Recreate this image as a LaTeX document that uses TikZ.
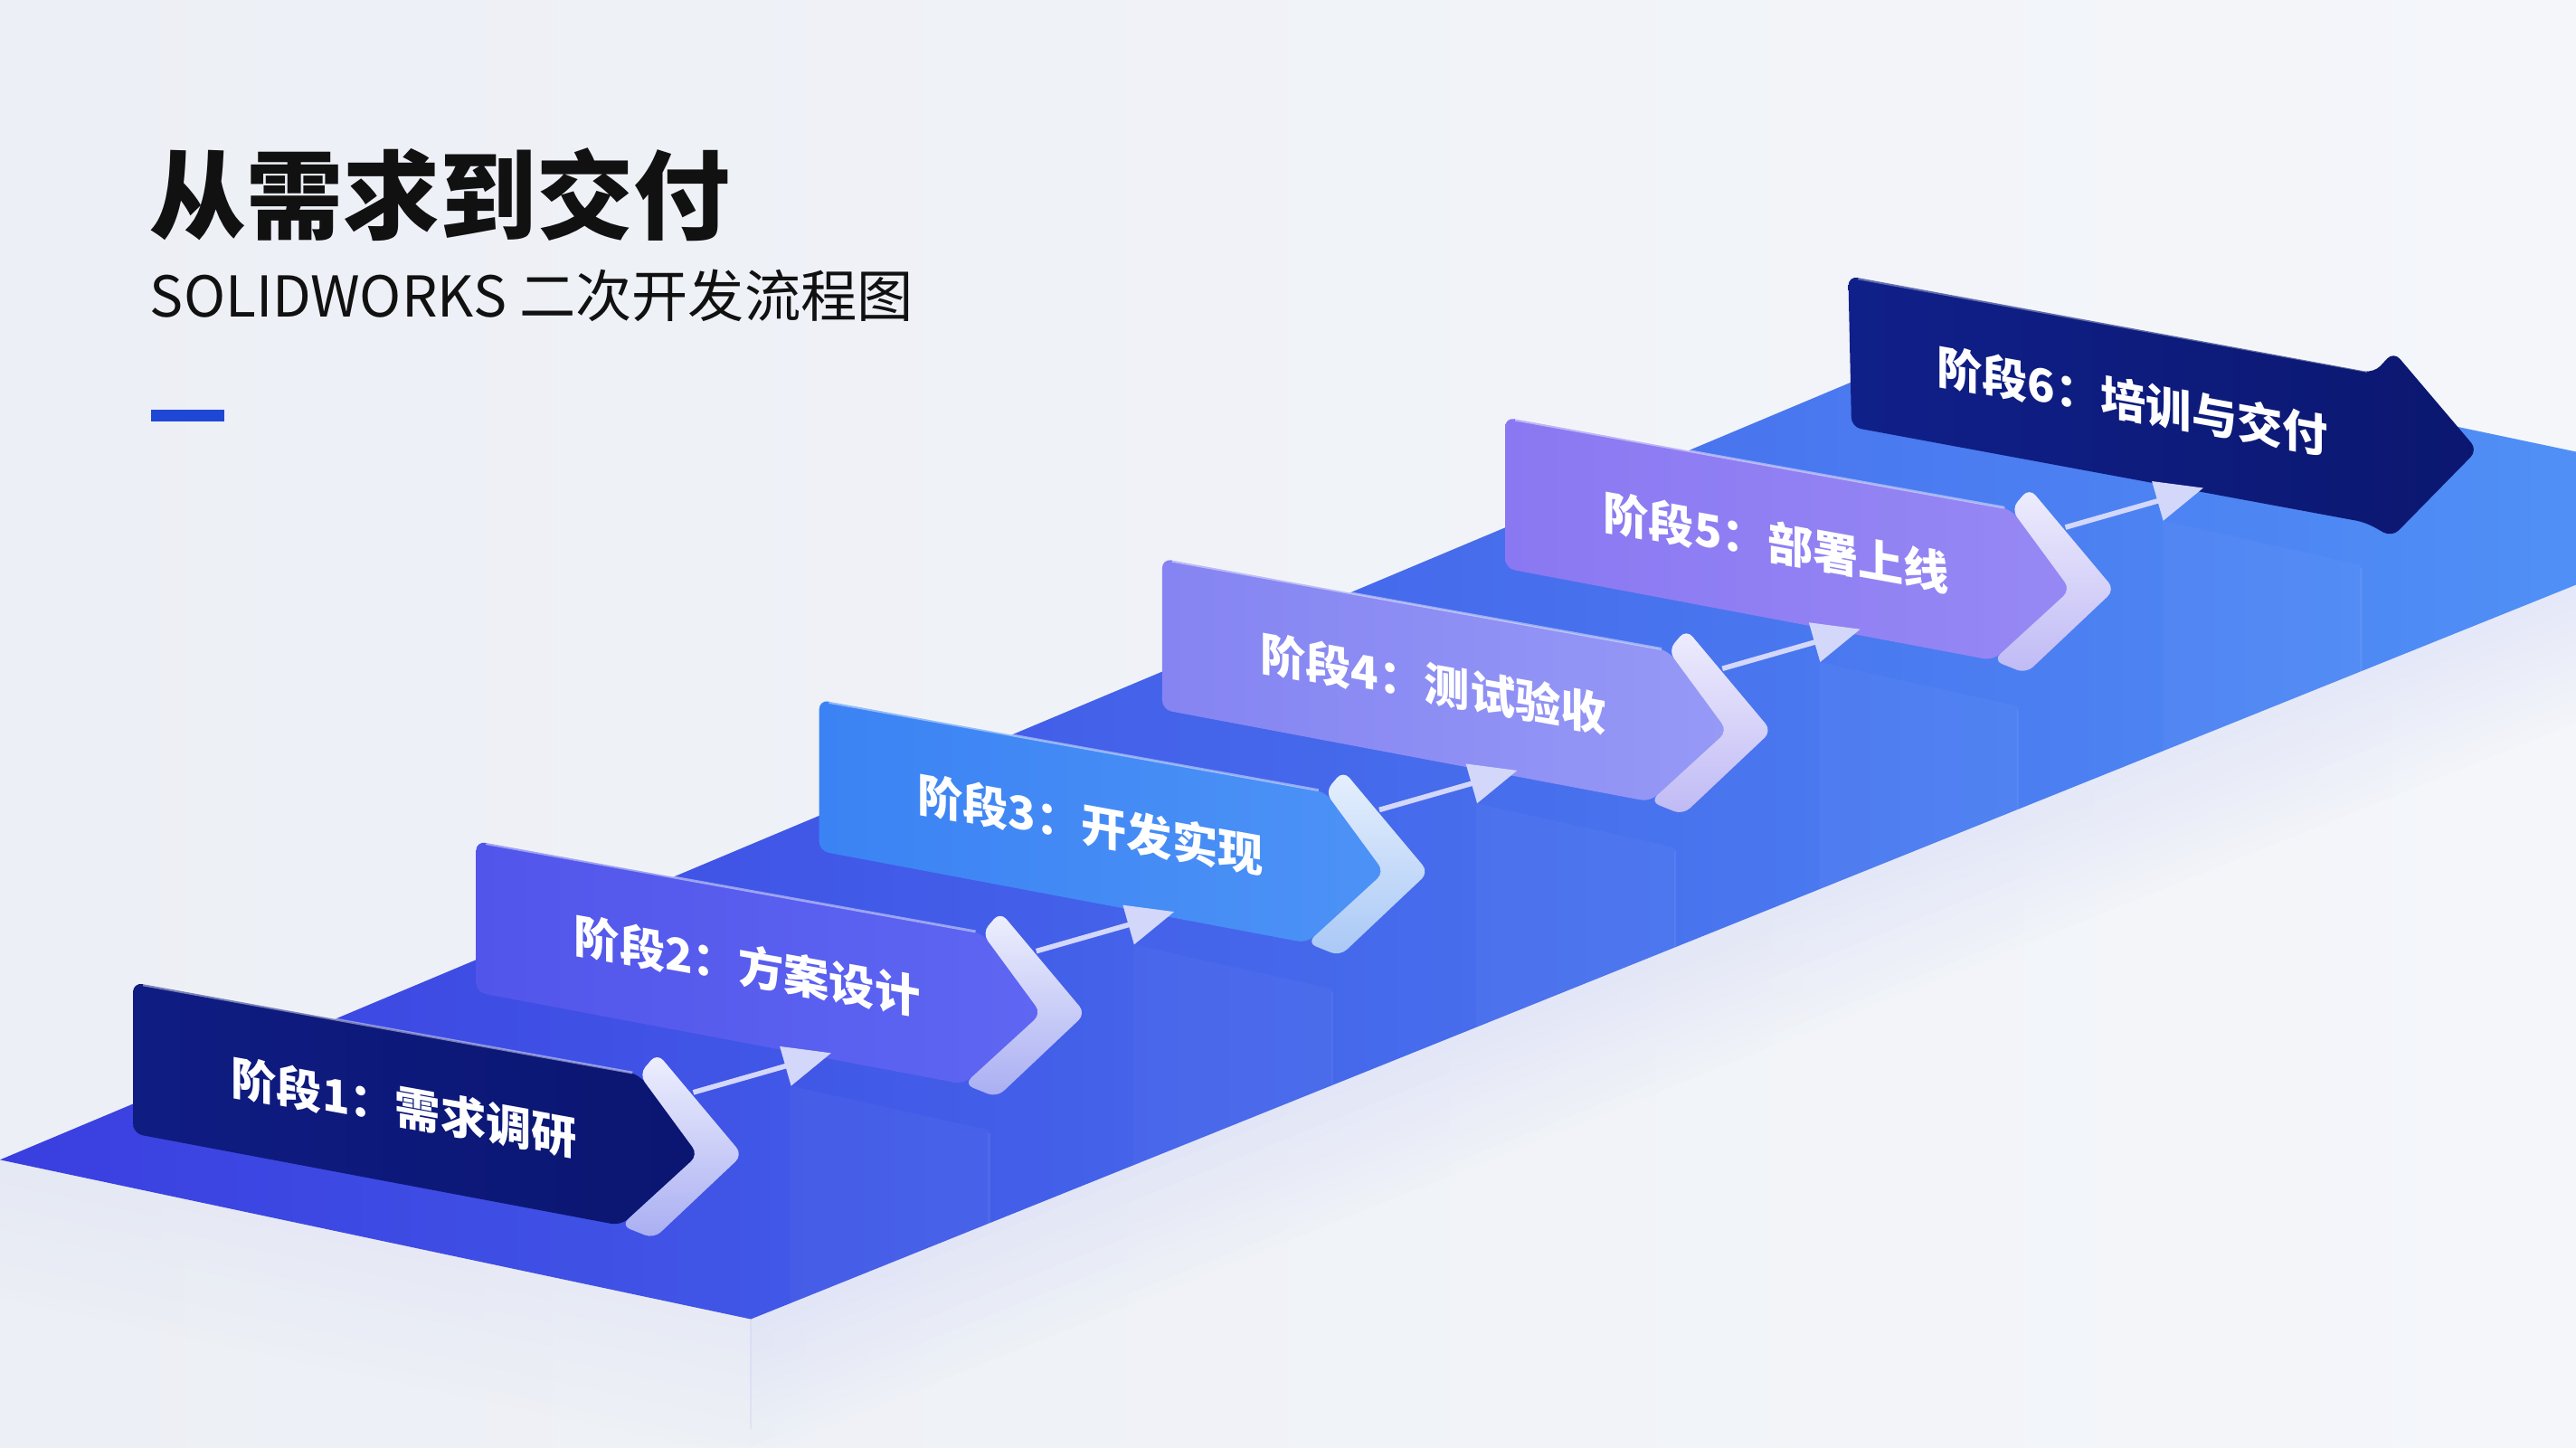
\documentclass[tikz,border=0pt]{standalone}
\usepackage{fontspec}
\setmainfont{Noto Sans CJK SC}
\usetikzlibrary{arrows.meta,calc}
\definecolor{bgl}{HTML}{ECEFF5}
\definecolor{bgr}{HTML}{F4F6FA}
\definecolor{platl}{HTML}{3A3EE0}
\definecolor{platm}{HTML}{4A5CEC}
\definecolor{platr}{HTML}{5090F6}
\definecolor{glow}{HTML}{C4CAF4}
\definecolor{barblue}{HTML}{1F47D6}
\definecolor{titlec}{HTML}{111111}
\definecolor{conn}{HTML}{D3D7FA}
\definecolor{aL}{HTML}{0F1C82}\definecolor{aR}{HTML}{0B1671}
\definecolor{bL}{HTML}{5255EA}\definecolor{bR}{HTML}{5E66F2}
\definecolor{cL}{HTML}{3B83F4}\definecolor{cR}{HTML}{4C92F6}
\definecolor{dL}{HTML}{8584F2}\definecolor{dR}{HTML}{9699F6}
\definecolor{eL}{HTML}{8A78F2}\definecolor{eR}{HTML}{9688F4}
\definecolor{fL}{HTML}{10208A}\definecolor{fR}{HTML}{0B176F}
\definecolor{bandT}{HTML}{EEF0FD}\definecolor{bandB}{HTML}{A9AEF2}
\definecolor{bandTb}{HTML}{E6F0FD}\definecolor{bandBb}{HTML}{A9C8F6}
\definecolor{bandTc}{HTML}{EEEDFD}\definecolor{bandBc}{HTML}{C0BAF5}
\newcommand{\mystage}[7]{%
  \coordinate (#2) at ({81+208.8*#1},{598-86*#1});
  \shade[left color=#3,right color=#4,rounded corners=3pt]
    (#2) -- ($(#2)+(308,56)$) -- ($(#2)+(344,105)$) -- ($(#2)+(297,148)$) -- ($(#2)+(0,92)$) -- cycle;
  \draw[white,opacity=0.45,line width=0.8pt] ($(#2)+(6,1.5)$) -- ($(#2)+(304,55)$);
  \shade[top color=#5,bottom color=#6,rounded corners=3pt]
    ($(#2)+(308,56)$) -- ($(#2)+(319,43)$) -- ($(#2)+(371,105)$) -- ($(#2)+(317,156)$) -- ($(#2)+(297,148)$) -- ($(#2)+(344,105)$) -- cycle;
  \node[stagelabel] (#2t) at ($(#2)+(165,76)$) {#7};
}
\tikzset{
  stagelabel/.style={font=\bfseries\fontsize{14.3}{16}\selectfont,text=white,yslant=-0.18,inner sep=0pt},
  connector/.style={conn,line width=1.6pt,-{Triangle[length=15pt,width=12.5pt]}},
}
\begin{document}
\begin{tikzpicture}[x=0.018163cm,y=-0.018163cm]
\useasboundingbox (0,0) rectangle (1568,881);
\shade[left color=bgl,right color=bgr] (0,0) rectangle (1568,881);

% glow / faces beneath the platform
\foreach \k in {0,...,11}{
  \fill[glow,opacity={0.30*(1-\k/12)}] (457,{803+7*\k}) -- (1568,{356+7*\k}) -- (1568,{356+7*(\k+1)}) -- (457,{803+7*(\k+1)}) -- cycle;
  \fill[glow,opacity={0.16*(1-\k/12)}] (0,{706+7*\k}) -- (457,{803+7*\k}) -- (457,{803+7*(\k+1)}) -- (0,{706+7*(\k+1)}) -- cycle;
}
\draw[glow,opacity=0.3,line width=0.6pt] (457,803) -- (457,870);

% platform
\coordinate (pL) at (0,706);
\coordinate (pB) at (457,803);
\coordinate (pR1) at (1568,356);
\coordinate (pR2) at (1568,275);
\coordinate (pK) at (1207,199);
\shade[left color=platl,middle color=platm,right color=platr] (pL) -- (pB) -- (pR1) -- (pR2) -- (pK) -- cycle;

% lighter step faces (subtle)
\foreach \i in {0,...,4}{
  \fill[white,opacity=0.03] ({481+208.8*\i},{661-86*\i}) -- ({602+208.8*\i},{688-86*\i}) -- ({602+208.8*\i},{803-0.402*(145+208.8*\i)}) -- ({481+208.8*\i},{803-0.402*(24+208.8*\i)}) -- cycle;
  \draw[white,opacity=0.06,line width=0.6pt] ({602+208.8*\i},{690-86*\i}) -- ({602+208.8*\i},{803-0.402*(145+208.8*\i)});
}

% title
\node[anchor=base west,inner sep=0pt,font=\bfseries\fontsize{30.4}{34}\selectfont,text=titlec] (title) at (91,141) {从需求到交付};
\node[anchor=base west,inner sep=0pt,font=\fontsize{17.7}{20}\selectfont,text=titlec] (subtitle) at (91,192.7) {SOLIDWORKS 二次开发流程图};
\fill[barblue] (92,249.5) rectangle (136.5,256.5);

% stages 1-5
\mystage{0}{s1}{aL}{aR}{bandT}{bandB}{阶段1：需求调研}
\mystage{1}{s2}{bL}{bR}{bandT}{bandB}{阶段2：方案设计}
\mystage{2}{s3}{cL}{cR}{bandTb}{bandBb}{阶段3：开发实现}
\mystage{3}{s4}{dL}{dR}{bandTc}{bandBc}{阶段4：测试验收}
\mystage{4}{s5}{eL}{eR}{bandTc}{bandBc}{阶段5：部署上线}

% stage 6 (full arrow)
\coordinate (s6) at (1125,168);
\shade[left color=fL,right color=fR,rounded corners=3pt]
  (s6) -- ($(s6)+(320,59)$) -- ($(s6)+(332,46)$) -- ($(s6)+(383,106)$) -- ($(s6)+(331,159)$) -- ($(s6)+(315,150)$) -- ($(s6)+(2,92)$) -- cycle;
\draw[white,opacity=0.35,line width=0.8pt] ($(s6)+(6,1.5)$) -- ($(s6)+(316,58)$);
\node[stagelabel] (s6t) at ($(s6)+(173,76)$) {阶段6：培训与交付};

% connectors
\foreach \i/\a/\b in {0/s1/s2,1/s2/s3,2/s3/s4,3/s4/s5,4/s5/s6}{
  \coordinate (c\i s) at ({422+208.8*\i},{665-86*\i});
  \coordinate (c\i e) at ({506+208.8*\i},{641-86*\i});
  \draw[connector] (c\i s) -- (c\i e);
}
\end{tikzpicture}
\end{document}
